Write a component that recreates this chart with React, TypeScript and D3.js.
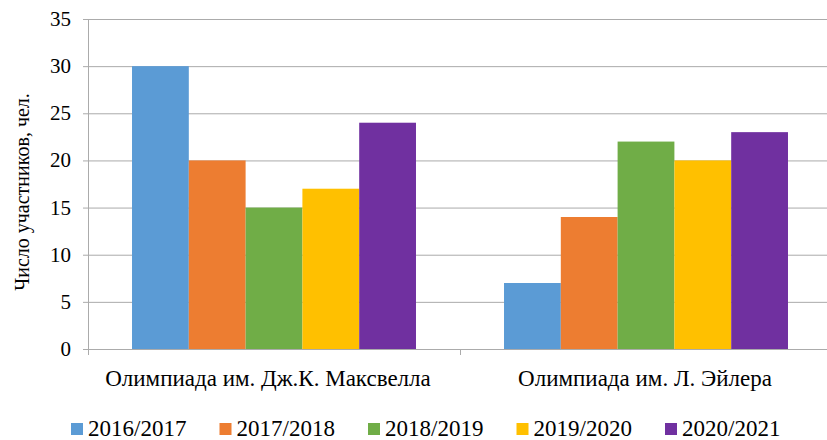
import { useEffect, useRef } from 'react';
import * as d3 from 'd3';

const categories = ['Олимпиада им. Дж.К. Максвелла', 'Олимпиада им. Л. Эйлера'];
const years = ['2016/2017', '2017/2018', '2018/2019', '2019/2020', '2020/2021'];
const colors = ['#5B9BD5', '#ED7D31', '#70AD47', '#FFC000', '#7030A0'];
// values[year][category]
const values = [
  [30, 7],
  [20, 14],
  [15, 22],
  [17, 20],
  [24, 23],
];
const yTicks = [0, 5, 10, 15, 20, 25, 30, 35];
const yTitle = 'Число участников, чел.';

export default function App() {
  const svgRef = useRef<SVGSVGElement | null>(null);

  useEffect(() => {
    if (!svgRef.current) return;
    const width = 827;
    const left = 88;
    const right = 832;
    const top = 19;
    const bottom = 349;

    const svg = d3.select(svgRef.current);
    svg.selectAll('*').remove();

    const font = "'Liberation Serif', 'Times New Roman', Times, serif";

    const x0 = d3.scaleBand<string>().domain(categories).range([left, right]);
    const x1 = d3
      .scaleBand<string>()
      .domain(years)
      .range([0, x0.bandwidth()])
      .paddingInner(0)
      .paddingOuter(0.775);
    const y = d3.scaleLinear().domain([0, 35]).range([bottom, top]);

    // grid lines
    svg
      .append('g')
      .selectAll('line')
      .data(yTicks)
      .enter()
      .append('line')
      .attr('x1', left - 5)
      .attr('x2', width)
      .attr('y1', (d) => y(d) + 0.5)
      .attr('y2', (d) => y(d) + 0.5)
      .attr('stroke', '#ABABAB')
      .attr('stroke-width', 1);

    // y axis line
    svg
      .append('line')
      .attr('x1', left + 0.5)
      .attr('x2', left + 0.5)
      .attr('y1', top)
      .attr('y2', bottom + 6)
      .attr('stroke', '#ABABAB');

    // x ticks at category boundaries
    const bounds = [...categories.map((c) => x0(c)!), right];
    svg
      .append('g')
      .selectAll('line')
      .data(bounds)
      .enter()
      .append('line')
      .attr('x1', (d) => d + 0.5)
      .attr('x2', (d) => d + 0.5)
      .attr('y1', bottom)
      .attr('y2', bottom + 6)
      .attr('stroke', '#ABABAB');

    // bars
    years.forEach((yr, i) => {
      svg
        .append('g')
        .selectAll('rect')
        .data(categories.map((c, j) => ({ c, v: values[i][j] })))
        .enter()
        .append('rect')
        .attr('x', (d) => x0(d.c)! + x1(yr)!)
        .attr('y', (d) => y(d.v))
        .attr('width', x1.bandwidth())
        .attr('height', (d) => bottom - y(d.v))
        .attr('fill', colors[i]);
    });

    // y tick labels
    svg
      .append('g')
      .selectAll('text')
      .data(yTicks)
      .enter()
      .append('text')
      .attr('x', 71)
      .attr('y', (d) => y(d) + 7)
      .attr('text-anchor', 'end')
      .style('font-family', font)
      .attr('font-size', 21)
      .attr('fill', '#000')
      .text((d) => d);

    // category labels
    const nudge = [-6, -1];
    svg
      .append('g')
      .selectAll('text')
      .data(categories)
      .enter()
      .append('text')
      .attr('x', (d, i) => x0(d)! + x0.bandwidth() / 2 + nudge[i])
      .attr('y', 386)
      .attr('text-anchor', 'middle')
      .style('font-family', font)
      .attr('font-size', 23)
      .attr('fill', '#000')
      .text((d) => d);

    // y title
    svg
      .append('text')
      .attr('transform', `translate(29,192) rotate(-90)`)
      .attr('text-anchor', 'middle')
      .style('font-family', font)
      .attr('font-size', 20)
      .attr('fill', '#000')
      .text(yTitle);

    // legend
    const lg = svg.append('g');
    years.forEach((yr, i) => {
      const lx = 71 + i * 148.5;
      lg.append('rect')
        .attr('x', lx)
        .attr('y', 423)
        .attr('width', 12)
        .attr('height', 12)
        .attr('fill', colors[i]);
      lg.append('text')
        .attr('x', lx + 17)
        .attr('y', 436)
        .style('font-family', font)
        .attr('font-size', 23)
        .attr('fill', '#000')
        .text(yr);
    });
  }, []);

  return (
    <svg
      ref={svgRef}
      width={827}
      height={440}
      style={{ position: 'absolute', left: 0, top: 0, background: '#fff' }}
    />
  );
}
